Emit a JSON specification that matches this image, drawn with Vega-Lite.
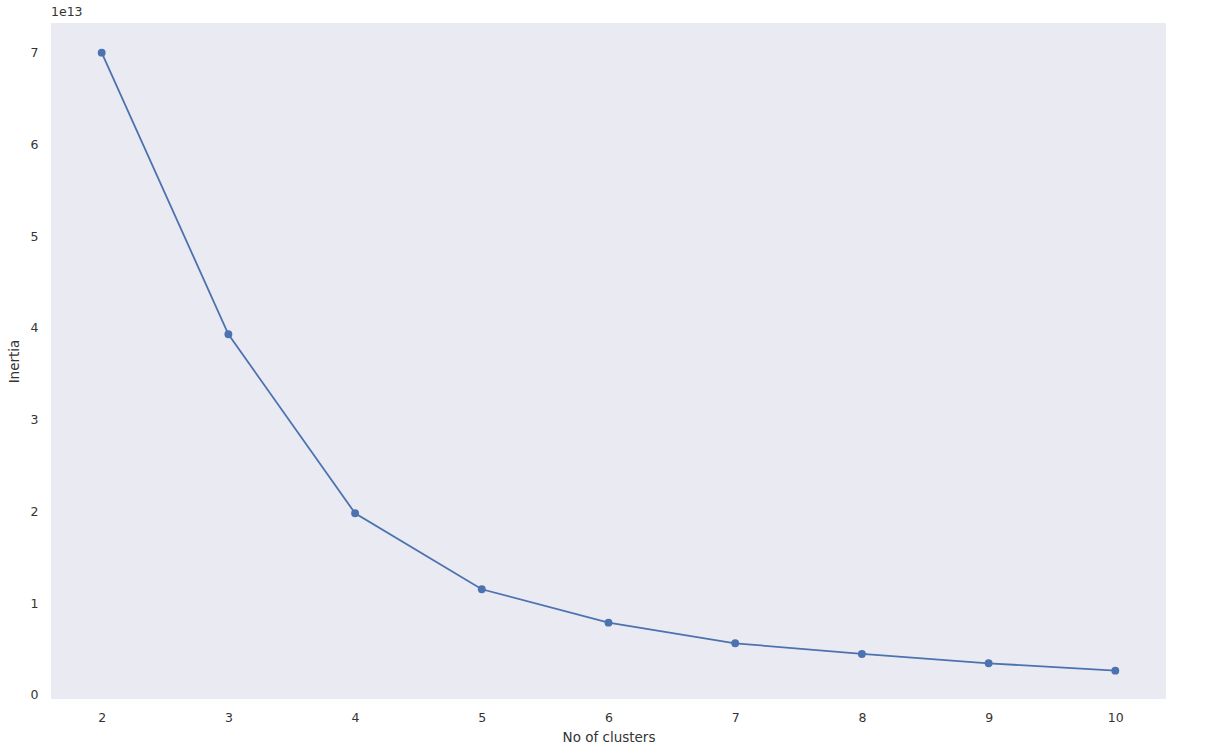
{
  "$schema": "https://vega.github.io/schema/vega-lite/v6.json",
  "autosize": {"type": "none"},
  "width": 1115,
  "height": 676,
  "padding": {"left": 51, "top": 23, "right": 51, "bottom": 54},
  "background": "white",
  "config": {
    "view": {"fill": "#EAEAF2", "stroke": null},
    "font": "DejaVu Sans",
    "axis": {
      "domain": false,
      "ticks": false,
      "grid": false,
      "labelFont": "DejaVu Sans",
      "labelFontSize": 12.5,
      "labelColor": "#333333",
      "titleFont": "DejaVu Sans",
      "titleFontSize": 13.5,
      "titleFontWeight": "normal",
      "titleColor": "#333333"
    }
  },
  "title": {
    "text": "1e13",
    "anchor": "start",
    "frame": "group",
    "fontSize": 12.5,
    "fontWeight": "normal",
    "color": "#333333",
    "font": "DejaVu Sans",
    "offset": 5
  },
  "data": {
    "values": [
      {"k": 2, "inertia": 7.0e13},
      {"k": 3, "inertia": 3.931e13},
      {"k": 4, "inertia": 1.980e13},
      {"k": 5, "inertia": 1.152e13},
      {"k": 6, "inertia": 0.788e13},
      {"k": 7, "inertia": 0.563e13},
      {"k": 8, "inertia": 0.447e13},
      {"k": 9, "inertia": 0.345e13},
      {"k": 10, "inertia": 0.265e13}
    ]
  },
  "encoding": {
    "x": {
      "field": "k",
      "type": "quantitative",
      "title": "No of clusters",
      "scale": {"domain": [1.6, 10.4], "nice": false, "zero": false},
      "axis": {"values": [2, 3, 4, 5, 6, 7, 8, 9, 10], "labelPadding": 12, "titlePadding": 7}
    },
    "y": {
      "field": "inertia",
      "type": "quantitative",
      "title": "Inertia",
      "scale": {"domain": [-0.044e13, 7.323e13], "nice": false, "zero": false},
      "axis": {
        "values": [0, 1e13, 2e13, 3e13, 4e13, 5e13, 6e13, 7e13],
        "labelExpr": "format(datum.value / 1e13, 'd')",
        "labelPadding": 13,
        "titlePadding": 9
      }
    }
  },
  "layer": [
    {"mark": {"type": "line", "color": "#4C72B0", "strokeWidth": 1.8}},
    {"mark": {"type": "point", "filled": true, "color": "#4C72B0", "opacity": 1, "size": 62}}
  ]
}
